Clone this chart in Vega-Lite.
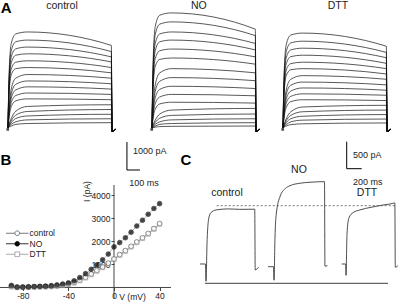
{
"$schema": "https://vega.github.io/schema/vega-lite/v6.json",
"width": 400, "height": 305,
"autosize": {"type": "none"},
"padding": 0,
"background": "white",
"config": {"view": {"stroke": null}, "font": "Liberation Sans", "text": {"font": "Liberation Sans"}},
"datasets": {
"traces": [
{"cond":"control","step":1,"ms":0,"pA":0},{"cond":"control","step":1,"ms":8,"pA":1890},{"cond":"control","step":1,"ms":25,"pA":3020},{"cond":"control","step":1,"ms":60,"pA":3360},{"cond":"control","step":1,"ms":150,"pA":3430},{"cond":"control","step":1,"ms":795,"pA":2950},{"cond":"control","step":1,"ms":800,"pA":-120},{"cond":"control","step":1,"ms":830,"pA":-40},
{"cond":"control","step":2,"ms":0,"pA":0},{"cond":"control","step":2,"ms":8,"pA":1730},{"cond":"control","step":2,"ms":25,"pA":2760},{"cond":"control","step":2,"ms":60,"pA":3080},{"cond":"control","step":2,"ms":150,"pA":3140},{"cond":"control","step":2,"ms":795,"pA":2730},{"cond":"control","step":2,"ms":800,"pA":-120},{"cond":"control","step":2,"ms":830,"pA":-40},
{"cond":"control","step":3,"ms":0,"pA":0},{"cond":"control","step":3,"ms":8,"pA":1590},{"cond":"control","step":3,"ms":25,"pA":2540},{"cond":"control","step":3,"ms":60,"pA":2830},{"cond":"control","step":3,"ms":150,"pA":2890},{"cond":"control","step":3,"ms":795,"pA":2540},{"cond":"control","step":3,"ms":800,"pA":-120},{"cond":"control","step":3,"ms":830,"pA":-40},
{"cond":"control","step":4,"ms":0,"pA":0},{"cond":"control","step":4,"ms":8,"pA":1460},{"cond":"control","step":4,"ms":25,"pA":2330},{"cond":"control","step":4,"ms":60,"pA":2600},{"cond":"control","step":4,"ms":150,"pA":2650},{"cond":"control","step":4,"ms":795,"pA":2360},{"cond":"control","step":4,"ms":800,"pA":-120},{"cond":"control","step":4,"ms":830,"pA":-40},
{"cond":"control","step":5,"ms":0,"pA":0},{"cond":"control","step":5,"ms":8,"pA":1320},{"cond":"control","step":5,"ms":25,"pA":2110},{"cond":"control","step":5,"ms":60,"pA":2350},{"cond":"control","step":5,"ms":150,"pA":2400},{"cond":"control","step":5,"ms":795,"pA":2160},{"cond":"control","step":5,"ms":800,"pA":-120},{"cond":"control","step":5,"ms":830,"pA":-40},
{"cond":"control","step":6,"ms":0,"pA":0},{"cond":"control","step":6,"ms":8,"pA":1190},{"cond":"control","step":6,"ms":25,"pA":1900},{"cond":"control","step":6,"ms":60,"pA":2120},{"cond":"control","step":6,"ms":150,"pA":2160},{"cond":"control","step":6,"ms":795,"pA":1970},{"cond":"control","step":6,"ms":800,"pA":-120},{"cond":"control","step":6,"ms":830,"pA":-40},
{"cond":"control","step":7,"ms":0,"pA":0},{"cond":"control","step":7,"ms":8,"pA":680},{"cond":"control","step":7,"ms":25,"pA":1390},{"cond":"control","step":7,"ms":60,"pA":1780},{"cond":"control","step":7,"ms":150,"pA":1910},{"cond":"control","step":7,"ms":795,"pA":1780},{"cond":"control","step":7,"ms":800,"pA":-120},{"cond":"control","step":7,"ms":830,"pA":-40},
{"cond":"control","step":8,"ms":0,"pA":0},{"cond":"control","step":8,"ms":8,"pA":600},{"cond":"control","step":8,"ms":25,"pA":1220},{"cond":"control","step":8,"ms":60,"pA":1560},{"cond":"control","step":8,"ms":150,"pA":1680},{"cond":"control","step":8,"ms":795,"pA":1580},{"cond":"control","step":8,"ms":800,"pA":-120},{"cond":"control","step":8,"ms":830,"pA":-40},
{"cond":"control","step":9,"ms":0,"pA":0},{"cond":"control","step":9,"ms":8,"pA":520},{"cond":"control","step":9,"ms":25,"pA":1070},{"cond":"control","step":9,"ms":60,"pA":1360},{"cond":"control","step":9,"ms":150,"pA":1470},{"cond":"control","step":9,"ms":795,"pA":1390},{"cond":"control","step":9,"ms":800,"pA":-120},{"cond":"control","step":9,"ms":830,"pA":-40},
{"cond":"control","step":10,"ms":0,"pA":0},{"cond":"control","step":10,"ms":8,"pA":440},{"cond":"control","step":10,"ms":25,"pA":910},{"cond":"control","step":10,"ms":60,"pA":1160},{"cond":"control","step":10,"ms":150,"pA":1250},{"cond":"control","step":10,"ms":795,"pA":1200},{"cond":"control","step":10,"ms":800,"pA":-120},{"cond":"control","step":10,"ms":830,"pA":-40},
{"cond":"control","step":11,"ms":0,"pA":0},{"cond":"control","step":11,"ms":8,"pA":370},{"cond":"control","step":11,"ms":25,"pA":760},{"cond":"control","step":11,"ms":60,"pA":970},{"cond":"control","step":11,"ms":150,"pA":1040},{"cond":"control","step":11,"ms":795,"pA":1010},{"cond":"control","step":11,"ms":800,"pA":-120},{"cond":"control","step":11,"ms":830,"pA":-40},
{"cond":"control","step":12,"ms":0,"pA":0},{"cond":"control","step":12,"ms":8,"pA":130},{"cond":"control","step":12,"ms":25,"pA":340},{"cond":"control","step":12,"ms":60,"pA":600},{"cond":"control","step":12,"ms":150,"pA":770},{"cond":"control","step":12,"ms":795,"pA":830},{"cond":"control","step":12,"ms":800,"pA":-120},{"cond":"control","step":12,"ms":830,"pA":-40},
{"cond":"control","step":13,"ms":0,"pA":0},{"cond":"control","step":13,"ms":8,"pA":100},{"cond":"control","step":13,"ms":25,"pA":260},{"cond":"control","step":13,"ms":60,"pA":460},{"cond":"control","step":13,"ms":150,"pA":590},{"cond":"control","step":13,"ms":795,"pA":660},{"cond":"control","step":13,"ms":800,"pA":-120},{"cond":"control","step":13,"ms":830,"pA":-40},
{"cond":"control","step":14,"ms":0,"pA":0},{"cond":"control","step":14,"ms":8,"pA":70},{"cond":"control","step":14,"ms":25,"pA":190},{"cond":"control","step":14,"ms":60,"pA":340},{"cond":"control","step":14,"ms":150,"pA":430},{"cond":"control","step":14,"ms":795,"pA":490},{"cond":"control","step":14,"ms":800,"pA":-120},{"cond":"control","step":14,"ms":830,"pA":-40},
{"cond":"control","step":15,"ms":0,"pA":0},{"cond":"control","step":15,"ms":8,"pA":50},{"cond":"control","step":15,"ms":25,"pA":130},{"cond":"control","step":15,"ms":60,"pA":220},{"cond":"control","step":15,"ms":150,"pA":290},{"cond":"control","step":15,"ms":795,"pA":330},{"cond":"control","step":15,"ms":800,"pA":-120},{"cond":"control","step":15,"ms":830,"pA":-40},
{"cond":"control","step":16,"ms":0,"pA":0},{"cond":"control","step":16,"ms":8,"pA":30},{"cond":"control","step":16,"ms":25,"pA":70},{"cond":"control","step":16,"ms":60,"pA":130},{"cond":"control","step":16,"ms":150,"pA":160},{"cond":"control","step":16,"ms":795,"pA":190},{"cond":"control","step":16,"ms":800,"pA":-120},{"cond":"control","step":16,"ms":830,"pA":-40},
{"cond":"NO","step":1,"ms":0,"pA":0},{"cond":"NO","step":1,"ms":8,"pA":2260},{"cond":"NO","step":1,"ms":25,"pA":3620},{"cond":"NO","step":1,"ms":60,"pA":4030},{"cond":"NO","step":1,"ms":150,"pA":4110},{"cond":"NO","step":1,"ms":795,"pA":3530},{"cond":"NO","step":1,"ms":800,"pA":-120},{"cond":"NO","step":1,"ms":830,"pA":-40},
{"cond":"NO","step":2,"ms":0,"pA":0},{"cond":"NO","step":2,"ms":8,"pA":2080},{"cond":"NO","step":2,"ms":25,"pA":3340},{"cond":"NO","step":2,"ms":60,"pA":3710},{"cond":"NO","step":2,"ms":150,"pA":3790},{"cond":"NO","step":2,"ms":795,"pA":3300},{"cond":"NO","step":2,"ms":800,"pA":-120},{"cond":"NO","step":2,"ms":830,"pA":-40},
{"cond":"NO","step":3,"ms":0,"pA":0},{"cond":"NO","step":3,"ms":8,"pA":1890},{"cond":"NO","step":3,"ms":25,"pA":3020},{"cond":"NO","step":3,"ms":60,"pA":3360},{"cond":"NO","step":3,"ms":150,"pA":3430},{"cond":"NO","step":3,"ms":795,"pA":3020},{"cond":"NO","step":3,"ms":800,"pA":-120},{"cond":"NO","step":3,"ms":830,"pA":-40},
{"cond":"NO","step":4,"ms":0,"pA":0},{"cond":"NO","step":4,"ms":8,"pA":1730},{"cond":"NO","step":4,"ms":25,"pA":2760},{"cond":"NO","step":4,"ms":60,"pA":3080},{"cond":"NO","step":4,"ms":150,"pA":3140},{"cond":"NO","step":4,"ms":795,"pA":2790},{"cond":"NO","step":4,"ms":800,"pA":-120},{"cond":"NO","step":4,"ms":830,"pA":-40},
{"cond":"NO","step":5,"ms":0,"pA":0},{"cond":"NO","step":5,"ms":8,"pA":1550},{"cond":"NO","step":5,"ms":25,"pA":2480},{"cond":"NO","step":5,"ms":60,"pA":2760},{"cond":"NO","step":5,"ms":150,"pA":2820},{"cond":"NO","step":5,"ms":795,"pA":2540},{"cond":"NO","step":5,"ms":800,"pA":-120},{"cond":"NO","step":5,"ms":830,"pA":-40},
{"cond":"NO","step":6,"ms":0,"pA":0},{"cond":"NO","step":6,"ms":8,"pA":1380},{"cond":"NO","step":6,"ms":25,"pA":2200},{"cond":"NO","step":6,"ms":60,"pA":2450},{"cond":"NO","step":6,"ms":150,"pA":2500},{"cond":"NO","step":6,"ms":795,"pA":2280},{"cond":"NO","step":6,"ms":800,"pA":-120},{"cond":"NO","step":6,"ms":830,"pA":-40},
{"cond":"NO","step":7,"ms":0,"pA":0},{"cond":"NO","step":7,"ms":8,"pA":750},{"cond":"NO","step":7,"ms":25,"pA":1540},{"cond":"NO","step":7,"ms":60,"pA":1970},{"cond":"NO","step":7,"ms":150,"pA":2120},{"cond":"NO","step":7,"ms":795,"pA":1970},{"cond":"NO","step":7,"ms":800,"pA":-120},{"cond":"NO","step":7,"ms":830,"pA":-40},
{"cond":"NO","step":8,"ms":0,"pA":0},{"cond":"NO","step":8,"ms":8,"pA":640},{"cond":"NO","step":8,"ms":25,"pA":1310},{"cond":"NO","step":8,"ms":60,"pA":1670},{"cond":"NO","step":8,"ms":150,"pA":1800},{"cond":"NO","step":8,"ms":795,"pA":1690},{"cond":"NO","step":8,"ms":800,"pA":-120},{"cond":"NO","step":8,"ms":830,"pA":-40},
{"cond":"NO","step":9,"ms":0,"pA":0},{"cond":"NO","step":9,"ms":8,"pA":530},{"cond":"NO","step":9,"ms":25,"pA":1080},{"cond":"NO","step":9,"ms":60,"pA":1380},{"cond":"NO","step":9,"ms":150,"pA":1490},{"cond":"NO","step":9,"ms":795,"pA":1410},{"cond":"NO","step":9,"ms":800,"pA":-120},{"cond":"NO","step":9,"ms":830,"pA":-40},
{"cond":"NO","step":10,"ms":0,"pA":0},{"cond":"NO","step":10,"ms":8,"pA":420},{"cond":"NO","step":10,"ms":25,"pA":870},{"cond":"NO","step":10,"ms":60,"pA":1110},{"cond":"NO","step":10,"ms":150,"pA":1200},{"cond":"NO","step":10,"ms":795,"pA":1150},{"cond":"NO","step":10,"ms":800,"pA":-120},{"cond":"NO","step":10,"ms":830,"pA":-40},
{"cond":"NO","step":11,"ms":0,"pA":0},{"cond":"NO","step":11,"ms":8,"pA":330},{"cond":"NO","step":11,"ms":25,"pA":670},{"cond":"NO","step":11,"ms":60,"pA":860},{"cond":"NO","step":11,"ms":150,"pA":920},{"cond":"NO","step":11,"ms":795,"pA":890},{"cond":"NO","step":11,"ms":800,"pA":-120},{"cond":"NO","step":11,"ms":830,"pA":-40},
{"cond":"NO","step":12,"ms":0,"pA":0},{"cond":"NO","step":12,"ms":8,"pA":110},{"cond":"NO","step":12,"ms":25,"pA":280},{"cond":"NO","step":12,"ms":60,"pA":500},{"cond":"NO","step":12,"ms":150,"pA":640},{"cond":"NO","step":12,"ms":795,"pA":700},{"cond":"NO","step":12,"ms":800,"pA":-120},{"cond":"NO","step":12,"ms":830,"pA":-40},
{"cond":"NO","step":13,"ms":0,"pA":0},{"cond":"NO","step":13,"ms":8,"pA":80},{"cond":"NO","step":13,"ms":25,"pA":200},{"cond":"NO","step":13,"ms":60,"pA":350},{"cond":"NO","step":13,"ms":150,"pA":450},{"cond":"NO","step":13,"ms":795,"pA":500},{"cond":"NO","step":13,"ms":800,"pA":-120},{"cond":"NO","step":13,"ms":830,"pA":-40},
{"cond":"NO","step":14,"ms":0,"pA":0},{"cond":"NO","step":14,"ms":8,"pA":50},{"cond":"NO","step":14,"ms":25,"pA":130},{"cond":"NO","step":14,"ms":60,"pA":220},{"cond":"NO","step":14,"ms":150,"pA":290},{"cond":"NO","step":14,"ms":795,"pA":330},{"cond":"NO","step":14,"ms":800,"pA":-120},{"cond":"NO","step":14,"ms":830,"pA":-40},
{"cond":"NO","step":15,"ms":0,"pA":0},{"cond":"NO","step":15,"ms":8,"pA":30},{"cond":"NO","step":15,"ms":25,"pA":70},{"cond":"NO","step":15,"ms":60,"pA":130},{"cond":"NO","step":15,"ms":150,"pA":160},{"cond":"NO","step":15,"ms":795,"pA":190},{"cond":"NO","step":15,"ms":800,"pA":-120},{"cond":"NO","step":15,"ms":830,"pA":-40},
{"cond":"NO","step":16,"ms":0,"pA":0},{"cond":"NO","step":16,"ms":8,"pA":10},{"cond":"NO","step":16,"ms":25,"pA":30},{"cond":"NO","step":16,"ms":60,"pA":50},{"cond":"NO","step":16,"ms":150,"pA":60},{"cond":"NO","step":16,"ms":795,"pA":70},{"cond":"NO","step":16,"ms":800,"pA":-120},{"cond":"NO","step":16,"ms":830,"pA":-40},
{"cond":"DTT","step":1,"ms":0,"pA":0},{"cond":"DTT","step":1,"ms":8,"pA":1860},{"cond":"DTT","step":1,"ms":25,"pA":2980},{"cond":"DTT","step":1,"ms":60,"pA":3320},{"cond":"DTT","step":1,"ms":150,"pA":3390},{"cond":"DTT","step":1,"ms":795,"pA":2920},{"cond":"DTT","step":1,"ms":800,"pA":-120},{"cond":"DTT","step":1,"ms":830,"pA":-40},
{"cond":"DTT","step":2,"ms":0,"pA":0},{"cond":"DTT","step":2,"ms":8,"pA":1710},{"cond":"DTT","step":2,"ms":25,"pA":2730},{"cond":"DTT","step":2,"ms":60,"pA":3040},{"cond":"DTT","step":2,"ms":150,"pA":3100},{"cond":"DTT","step":2,"ms":795,"pA":2700},{"cond":"DTT","step":2,"ms":800,"pA":-120},{"cond":"DTT","step":2,"ms":830,"pA":-40},
{"cond":"DTT","step":3,"ms":0,"pA":0},{"cond":"DTT","step":3,"ms":8,"pA":1570},{"cond":"DTT","step":3,"ms":25,"pA":2510},{"cond":"DTT","step":3,"ms":60,"pA":2790},{"cond":"DTT","step":3,"ms":150,"pA":2850},{"cond":"DTT","step":3,"ms":795,"pA":2510},{"cond":"DTT","step":3,"ms":800,"pA":-120},{"cond":"DTT","step":3,"ms":830,"pA":-40},
{"cond":"DTT","step":4,"ms":0,"pA":0},{"cond":"DTT","step":4,"ms":8,"pA":1430},{"cond":"DTT","step":4,"ms":25,"pA":2290},{"cond":"DTT","step":4,"ms":60,"pA":2550},{"cond":"DTT","step":4,"ms":150,"pA":2600},{"cond":"DTT","step":4,"ms":795,"pA":2310},{"cond":"DTT","step":4,"ms":800,"pA":-120},{"cond":"DTT","step":4,"ms":830,"pA":-40},
{"cond":"DTT","step":5,"ms":0,"pA":0},{"cond":"DTT","step":5,"ms":8,"pA":1290},{"cond":"DTT","step":5,"ms":25,"pA":2070},{"cond":"DTT","step":5,"ms":60,"pA":2300},{"cond":"DTT","step":5,"ms":150,"pA":2350},{"cond":"DTT","step":5,"ms":795,"pA":2120},{"cond":"DTT","step":5,"ms":800,"pA":-120},{"cond":"DTT","step":5,"ms":830,"pA":-40},
{"cond":"DTT","step":6,"ms":0,"pA":0},{"cond":"DTT","step":6,"ms":8,"pA":1170},{"cond":"DTT","step":6,"ms":25,"pA":1870},{"cond":"DTT","step":6,"ms":60,"pA":2080},{"cond":"DTT","step":6,"ms":150,"pA":2120},{"cond":"DTT","step":6,"ms":795,"pA":1930},{"cond":"DTT","step":6,"ms":800,"pA":-120},{"cond":"DTT","step":6,"ms":830,"pA":-40},
{"cond":"DTT","step":7,"ms":0,"pA":0},{"cond":"DTT","step":7,"ms":8,"pA":660},{"cond":"DTT","step":7,"ms":25,"pA":1360},{"cond":"DTT","step":7,"ms":60,"pA":1740},{"cond":"DTT","step":7,"ms":150,"pA":1870},{"cond":"DTT","step":7,"ms":795,"pA":1740},{"cond":"DTT","step":7,"ms":800,"pA":-120},{"cond":"DTT","step":7,"ms":830,"pA":-40},
{"cond":"DTT","step":8,"ms":0,"pA":0},{"cond":"DTT","step":8,"ms":8,"pA":580},{"cond":"DTT","step":8,"ms":25,"pA":1200},{"cond":"DTT","step":8,"ms":60,"pA":1530},{"cond":"DTT","step":8,"ms":150,"pA":1640},{"cond":"DTT","step":8,"ms":795,"pA":1540},{"cond":"DTT","step":8,"ms":800,"pA":-120},{"cond":"DTT","step":8,"ms":830,"pA":-40},
{"cond":"DTT","step":9,"ms":0,"pA":0},{"cond":"DTT","step":9,"ms":8,"pA":500},{"cond":"DTT","step":9,"ms":25,"pA":1040},{"cond":"DTT","step":9,"ms":60,"pA":1320},{"cond":"DTT","step":9,"ms":150,"pA":1430},{"cond":"DTT","step":9,"ms":795,"pA":1350},{"cond":"DTT","step":9,"ms":800,"pA":-120},{"cond":"DTT","step":9,"ms":830,"pA":-40},
{"cond":"DTT","step":10,"ms":0,"pA":0},{"cond":"DTT","step":10,"ms":8,"pA":430},{"cond":"DTT","step":10,"ms":25,"pA":890},{"cond":"DTT","step":10,"ms":60,"pA":1130},{"cond":"DTT","step":10,"ms":150,"pA":1220},{"cond":"DTT","step":10,"ms":795,"pA":1170},{"cond":"DTT","step":10,"ms":800,"pA":-120},{"cond":"DTT","step":10,"ms":830,"pA":-40},
{"cond":"DTT","step":11,"ms":0,"pA":0},{"cond":"DTT","step":11,"ms":8,"pA":360},{"cond":"DTT","step":11,"ms":25,"pA":730},{"cond":"DTT","step":11,"ms":60,"pA":940},{"cond":"DTT","step":11,"ms":150,"pA":1010},{"cond":"DTT","step":11,"ms":795,"pA":980},{"cond":"DTT","step":11,"ms":800,"pA":-120},{"cond":"DTT","step":11,"ms":830,"pA":-40},
{"cond":"DTT","step":12,"ms":0,"pA":0},{"cond":"DTT","step":12,"ms":8,"pA":120},{"cond":"DTT","step":12,"ms":25,"pA":330},{"cond":"DTT","step":12,"ms":60,"pA":580},{"cond":"DTT","step":12,"ms":150,"pA":750},{"cond":"DTT","step":12,"ms":795,"pA":810},{"cond":"DTT","step":12,"ms":800,"pA":-120},{"cond":"DTT","step":12,"ms":830,"pA":-40},
{"cond":"DTT","step":13,"ms":0,"pA":0},{"cond":"DTT","step":13,"ms":8,"pA":100},{"cond":"DTT","step":13,"ms":25,"pA":260},{"cond":"DTT","step":13,"ms":60,"pA":450},{"cond":"DTT","step":13,"ms":150,"pA":580},{"cond":"DTT","step":13,"ms":795,"pA":640},{"cond":"DTT","step":13,"ms":800,"pA":-120},{"cond":"DTT","step":13,"ms":830,"pA":-40},
{"cond":"DTT","step":14,"ms":0,"pA":0},{"cond":"DTT","step":14,"ms":8,"pA":70},{"cond":"DTT","step":14,"ms":25,"pA":190},{"cond":"DTT","step":14,"ms":60,"pA":330},{"cond":"DTT","step":14,"ms":150,"pA":420},{"cond":"DTT","step":14,"ms":795,"pA":480},{"cond":"DTT","step":14,"ms":800,"pA":-120},{"cond":"DTT","step":14,"ms":830,"pA":-40},
{"cond":"DTT","step":15,"ms":0,"pA":0},{"cond":"DTT","step":15,"ms":8,"pA":50},{"cond":"DTT","step":15,"ms":25,"pA":120},{"cond":"DTT","step":15,"ms":60,"pA":220},{"cond":"DTT","step":15,"ms":150,"pA":280},{"cond":"DTT","step":15,"ms":795,"pA":320},{"cond":"DTT","step":15,"ms":800,"pA":-120},{"cond":"DTT","step":15,"ms":830,"pA":-40},
{"cond":"DTT","step":16,"ms":0,"pA":0},{"cond":"DTT","step":16,"ms":8,"pA":30},{"cond":"DTT","step":16,"ms":25,"pA":70},{"cond":"DTT","step":16,"ms":60,"pA":120},{"cond":"DTT","step":16,"ms":150,"pA":150},{"cond":"DTT","step":16,"ms":795,"pA":180},{"cond":"DTT","step":16,"ms":800,"pA":-120},{"cond":"DTT","step":16,"ms":830,"pA":-40}
],
"iv": [
{"series":"control","V":-90,"I":50},{"series":"control","V":-85,"I":10},{"series":"control","V":-80,"I":10},{"series":"control","V":-75,"I":20},{"series":"control","V":-70,"I":30},{"series":"control","V":-65,"I":30},{"series":"control","V":-60,"I":40},{"series":"control","V":-55,"I":50},{"series":"control","V":-50,"I":70},{"series":"control","V":-45,"I":100},{"series":"control","V":-40,"I":150},{"series":"control","V":-35,"I":220},{"series":"control","V":-30,"I":320},{"series":"control","V":-25,"I":440},{"series":"control","V":-20,"I":590},{"series":"control","V":-15,"I":740},{"series":"control","V":-10,"I":890},{"series":"control","V":-5,"I":1060},{"series":"control","V":0,"I":1240},{"series":"control","V":5,"I":1430},{"series":"control","V":10,"I":1600},{"series":"control","V":15,"I":1790},{"series":"control","V":20,"I":1980},{"series":"control","V":25,"I":2160},{"series":"control","V":30,"I":2350},{"series":"control","V":35,"I":2560},{"series":"control","V":40,"I":2780},
{"series":"NO","V":-90,"I":90},{"series":"NO","V":-85,"I":20},{"series":"NO","V":-80,"I":20},{"series":"NO","V":-75,"I":30},{"series":"NO","V":-70,"I":40},{"series":"NO","V":-65,"I":50},{"series":"NO","V":-60,"I":60},{"series":"NO","V":-55,"I":80},{"series":"NO","V":-50,"I":110},{"series":"NO","V":-45,"I":150},{"series":"NO","V":-40,"I":200},{"series":"NO","V":-35,"I":290},{"series":"NO","V":-30,"I":430},{"series":"NO","V":-25,"I":600},{"series":"NO","V":-20,"I":790},{"series":"NO","V":-15,"I":980},{"series":"NO","V":-10,"I":1200},{"series":"NO","V":-5,"I":1450},{"series":"NO","V":0,"I":1760},{"series":"NO","V":5,"I":1950},{"series":"NO","V":10,"I":2160},{"series":"NO","V":15,"I":2400},{"series":"NO","V":20,"I":2670},{"series":"NO","V":25,"I":2920},{"series":"NO","V":30,"I":3180},{"series":"NO","V":35,"I":3430},{"series":"NO","V":40,"I":3640},
{"series":"DTT","V":-90,"I":30},{"series":"DTT","V":-85,"I":0},{"series":"DTT","V":-80,"I":10},{"series":"DTT","V":-75,"I":10},{"series":"DTT","V":-70,"I":20},{"series":"DTT","V":-65,"I":30},{"series":"DTT","V":-60,"I":30},{"series":"DTT","V":-55,"I":40},{"series":"DTT","V":-50,"I":60},{"series":"DTT","V":-45,"I":90},{"series":"DTT","V":-40,"I":130},{"series":"DTT","V":-35,"I":200},{"series":"DTT","V":-30,"I":300},{"series":"DTT","V":-25,"I":420},{"series":"DTT","V":-20,"I":560},{"series":"DTT","V":-15,"I":710},{"series":"DTT","V":-10,"I":870},{"series":"DTT","V":-5,"I":1040},{"series":"DTT","V":0,"I":1220},{"series":"DTT","V":5,"I":1400},{"series":"DTT","V":10,"I":1580},{"series":"DTT","V":15,"I":1760},{"series":"DTT","V":20,"I":1950},{"series":"DTT","V":25,"I":2130},{"series":"DTT","V":30,"I":2320},{"series":"DTT","V":35,"I":2530},{"series":"DTT","V":40,"I":2740}
],
"ctraces": [
{"cond":"control","ms":-80,"pA":0},{"cond":"control","ms":-8,"pA":0},{"cond":"control","ms":0,"pA":-320},{"cond":"control","ms":15,"pA":450},{"cond":"control","ms":40,"pA":870},{"cond":"control","ms":80,"pA":970},{"cond":"control","ms":150,"pA":1005},{"cond":"control","ms":300,"pA":1020},{"cond":"control","ms":450,"pA":1012},{"cond":"control","ms":650,"pA":1015},{"cond":"control","ms":656,"pA":-110},{"cond":"control","ms":700,"pA":-60},
{"cond":"NO","ms":827,"pA":-50},{"cond":"NO","ms":900,"pA":-50},{"cond":"NO","ms":907,"pA":-300},{"cond":"NO","ms":920,"pA":500},{"cond":"NO","ms":935,"pA":900},{"cond":"NO","ms":990,"pA":1260},{"cond":"NO","ms":1060,"pA":1400},{"cond":"NO","ms":1120,"pA":1450},{"cond":"NO","ms":1250,"pA":1495},{"cond":"NO","ms":1400,"pA":1515},{"cond":"NO","ms":1580,"pA":1525},{"cond":"NO","ms":1586,"pA":-40},{"cond":"NO","ms":1620,"pA":-30},
{"cond":"DTT","ms":1810,"pA":0},{"cond":"DTT","ms":1862,"pA":0},{"cond":"DTT","ms":1867,"pA":-210},{"cond":"DTT","ms":1880,"pA":550},{"cond":"DTT","ms":1905,"pA":850},{"cond":"DTT","ms":1960,"pA":950},{"cond":"DTT","ms":2050,"pA":1000},{"cond":"DTT","ms":2200,"pA":1050},{"cond":"DTT","ms":2350,"pA":1090},{"cond":"DTT","ms":2450,"pA":1110},{"cond":"DTT","ms":2518,"pA":1130},{"cond":"DTT","ms":2524,"pA":-60},{"cond":"DTT","ms":2560,"pA":-30}
]
},
"resolve": {"scale": {"x": "independent", "y": "independent"}},
"layer": [
{
"layer": [
{"data": {"name": "traces"}, "transform": [{"filter": "datum.cond === 'control'"}],
 "mark": {"type": "line", "interpolate": "monotone", "strokeWidth": 0.7, "color": "#111"},
 "encoding": {"x": {"field": "ms", "type": "quantitative", "scale": {"domain": [-61.54, 3015.4], "nice": false, "zero": false}, "axis": null},
  "y": {"field": "pA", "type": "quantitative", "scale": {"domain": [-6321.4, 4571.4], "nice": false, "zero": false}, "axis": null},
  "detail": {"field": "step"}}},
{"data": {"values": [{}]}, "mark": {"type": "point", "shape": "square", "size": 7, "filled": true, "color": "#000"},
 "encoding": {"x": {"datum": -2, "axis": null}, "y": {"datum": -50, "axis": null}}},
{"data": {"values": [{}]}, "mark": {"type": "text", "text": "control", "fontSize": 10.5, "color": "#222"},
 "encoding": {"x": {"datum": 415, "axis": null}, "y": {"datum": 4357, "axis": null}}},
{"data": {"values": [{}]}, "mark": {"type": "text", "text": "A", "fontSize": 15, "fontWeight": "bold", "color": "#000"},
 "encoding": {"x": {"datum": -15, "axis": null}, "y": {"datum": 4300, "axis": null}}},
{"data": {"values": [{}]}, "mark": {"type": "rule", "color": "#000", "strokeWidth": 1},
 "encoding": {"x": {"datum": 915, "axis": null}, "y": {"datum": -1500, "axis": null}, "y2": {"datum": -500}}},
{"data": {"values": [{}]}, "mark": {"type": "rule", "color": "#000", "strokeWidth": 1},
 "encoding": {"x": {"datum": 915, "axis": null}, "x2": {"datum": 1015}, "y": {"datum": -1500, "axis": null}}},
{"data": {"values": [{}]}, "mark": {"type": "text", "text": "1000 pA", "fontSize": 9, "align": "left", "color": "#222"},
 "encoding": {"x": {"datum": 962, "axis": null}, "y": {"datum": -820, "axis": null}}},
{"data": {"values": [{}]}, "mark": {"type": "text", "text": "100 ms", "fontSize": 9, "color": "#222"},
 "encoding": {"x": {"datum": 1046, "axis": null}, "y": {"datum": -1964, "axis": null}}}
]
},
{
"layer": [
{"data": {"name": "traces"}, "transform": [{"filter": "datum.cond === 'NO'"}],
 "mark": {"type": "line", "interpolate": "monotone", "strokeWidth": 0.7, "color": "#111"},
 "encoding": {"x": {"field": "ms", "type": "quantitative", "scale": {"domain": [-1169.2, 1907.7], "nice": false, "zero": false}, "axis": null},
  "y": {"field": "pA", "type": "quantitative", "scale": {"domain": [-6321.4, 4571.4], "nice": false, "zero": false}, "axis": null},
  "detail": {"field": "step"}}},
{"data": {"values": [{}]}, "mark": {"type": "point", "shape": "square", "size": 7, "filled": true, "color": "#000"},
 "encoding": {"x": {"datum": -2, "axis": null}, "y": {"datum": -50, "axis": null}}},
{"data": {"values": [{}]}, "mark": {"type": "text", "text": "NO", "fontSize": 10.5, "color": "#222"},
 "encoding": {"x": {"datum": 360, "axis": null}, "y": {"datum": 4357, "axis": null}}}
]
},
{
"layer": [
{"data": {"name": "traces"}, "transform": [{"filter": "datum.cond === 'DTT'"}],
 "mark": {"type": "line", "interpolate": "monotone", "strokeWidth": 0.7, "color": "#111"},
 "encoding": {"x": {"field": "ms", "type": "quantitative", "scale": {"domain": [-2176.9, 900], "nice": false, "zero": false}, "axis": null},
  "y": {"field": "pA", "type": "quantitative", "scale": {"domain": [-6321.4, 4571.4], "nice": false, "zero": false}, "axis": null},
  "detail": {"field": "step"}}},
{"data": {"values": [{}]}, "mark": {"type": "point", "shape": "square", "size": 7, "filled": true, "color": "#000"},
 "encoding": {"x": {"datum": -2, "axis": null}, "y": {"datum": -50, "axis": null}}},
{"data": {"values": [{}]}, "mark": {"type": "text", "text": "DTT", "fontSize": 10.5, "color": "#222"},
 "encoding": {"x": {"datum": 423, "axis": null}, "y": {"datum": 4357, "axis": null}}}
]
},
{
"layer": [
{"data": {"name": "iv"}, "mark": {"type": "line", "strokeWidth": 0.6, "color": "#888"},
 "encoding": {
  "x": {"field": "V", "type": "quantitative", "scale": {"domain": [-100, 250.88], "nice": false, "zero": false},
   "axis": {"orient": "bottom", "values": [-80, -40, 0, 40], "labelExpr": "'' + datum.value", "offset": -17.5, "domain": false, "tickSize": 3, "labelFontSize": 8.5, "labelColor": "#222", "tickColor": "#444", "labelPadding": 1, "grid": false,
    "title": "V (mV)", "titleFontSize": 8.5, "titleFontWeight": "normal", "titleColor": "#222", "titleX": 132, "titleY": 9, "titleAlign": "center", "titleBaseline": "middle"}},
  "y": {"field": "I", "type": "quantitative", "scale": {"domain": [-760.6, 12483], "nice": false, "zero": false},
   "axis": {"orient": "left", "values": [1000, 2000, 3000, 4000], "format": "d", "offset": -114, "domain": false, "tickSize": 3, "labelFontSize": 8.5, "labelColor": "#222", "tickColor": "#444", "labelPadding": 1, "grid": false,
    "title": "I (pA)", "titleFontSize": 8.5, "titleFontWeight": "normal", "titleColor": "#222", "titleX": -28, "titleY": 191, "titleAlign": "center", "titleBaseline": "middle", "titleAngle": -90}},
  "detail": {"field": "series"}}},
{"data": {"values": [{}]}, "mark": {"type": "rule", "color": "#444", "strokeWidth": 1},
 "encoding": {"x": {"datum": -100}, "x2": {"datum": 50}, "y": {"datum": 0}}},
{"data": {"values": [{}]}, "mark": {"type": "rule", "color": "#444", "strokeWidth": 1},
 "encoding": {"x": {"datum": 0}, "y": {"datum": -500}, "y2": {"datum": 4450}}},
{"data": {"name": "iv"}, "transform": [{"filter": "datum.series === 'DTT'"}],
 "mark": {"type": "point", "shape": "square", "size": 20, "filled": true, "fill": "white", "stroke": "#999", "strokeWidth": 0.8},
 "encoding": {"x": {"field": "V", "type": "quantitative"}, "y": {"field": "I", "type": "quantitative"}}},
{"data": {"name": "iv"}, "transform": [{"filter": "datum.series === 'control'"}],
 "mark": {"type": "point", "shape": "circle", "size": 22, "filled": true, "fill": "white", "stroke": "#555", "strokeWidth": 0.8},
 "encoding": {"x": {"field": "V", "type": "quantitative"}, "y": {"field": "I", "type": "quantitative"}}},
{"data": {"name": "iv"}, "transform": [{"filter": "datum.series === 'NO'"}],
 "mark": {"type": "point", "shape": "circle", "size": 22, "filled": true, "fill": "black", "stroke": "black", "strokeWidth": 0.8},
 "encoding": {"x": {"field": "V", "type": "quantitative"}, "y": {"field": "I", "type": "quantitative"}}},
{"data": {"name": "iv"}, "mark": {"type": "point", "filled": true, "opacity": 0},
 "encoding": {"x": {"field": "V", "type": "quantitative"}, "y": {"field": "I", "type": "quantitative"},
  "shape": {"field": "series", "type": "nominal", "scale": {"domain": ["control", "NO", "DTT"], "range": ["M-1,0A1,1,0,1,1,1,0A1,1,0,1,1,-1,0Z M-4.8,0L-1,0 M1,0L4.8,0", "M-1,0A1,1,0,1,1,1,0A1,1,0,1,1,-1,0Z M-4.8,0L-1,0 M1,0L4.8,0", "M-1,-1L1,-1L1,1L-1,1Z M-4.8,0L-1,0 M1,0L4.8,0"]},
   "legend": {"orient": "none", "legendX": 13, "legendY": 229, "title": null, "labelFontSize": 8.5, "labelColor": "#222", "symbolSize": 22, "symbolStrokeWidth": 0.8, "symbolOpacity": 1, "labelOffset": 8, "rowPadding": 1.5, "padding": 0}},
  "fill": {"field": "series", "type": "nominal", "scale": {"domain": ["control", "NO", "DTT"], "range": ["white", "black", "white"]},
   "legend": {"orient": "none", "legendX": 13, "legendY": 229, "title": null, "labelFontSize": 8.5, "labelColor": "#222", "symbolSize": 22, "symbolStrokeWidth": 0.8, "symbolOpacity": 1, "labelOffset": 8, "rowPadding": 1.5, "padding": 0}},
  "stroke": {"field": "series", "type": "nominal", "scale": {"domain": ["control", "NO", "DTT"], "range": ["#555", "black", "#999"]},
   "legend": {"orient": "none", "legendX": 13, "legendY": 229, "title": null, "labelFontSize": 8.5, "labelColor": "#222", "symbolSize": 22, "symbolStrokeWidth": 0.8, "symbolOpacity": 1, "labelOffset": 8, "rowPadding": 1.5, "padding": 0}}}},
{"data": {"values": [{}]}, "mark": {"type": "text", "text": "B", "fontSize": 15, "fontWeight": "bold", "color": "#000"},
 "encoding": {"x": {"datum": -94.7}, "y": {"datum": 5535}}}
]
},
{
"layer": [
{"data": {"name": "ctraces"},
 "mark": {"type": "line", "interpolate": "monotone", "strokeWidth": 0.8, "color": "#222"},
 "encoding": {"x": {"field": "ms", "type": "quantitative", "scale": {"domain": [-2746.7, 2586.7], "nice": false, "zero": false}, "axis": null},
  "y": {"field": "pA", "type": "quantitative", "scale": {"domain": [-759.3, 4888.9], "nice": false, "zero": false}, "axis": null},
  "detail": {"field": "cond"}}},
{"data": {"values": [{}]}, "mark": {"type": "rule", "color": "#555", "strokeWidth": 0.8, "strokeDash": [2, 2]},
 "encoding": {"x": {"datum": 143, "axis": null}, "x2": {"datum": 2520}, "y": {"datum": 1080, "axis": null}}},
{"data": {"values": [{}]}, "mark": {"type": "rule", "color": "#666", "strokeWidth": 1.2},
 "encoding": {"x": {"datum": -13, "axis": null}, "x2": {"datum": 2427}, "y": {"datum": -357, "axis": null}}},
{"data": {"values": [{}]}, "mark": {"type": "rule", "color": "#000", "strokeWidth": 1},
 "encoding": {"x": {"datum": 1876, "axis": null}, "y": {"datum": 1765, "axis": null}, "y2": {"datum": 2265}}},
{"data": {"values": [{}]}, "mark": {"type": "rule", "color": "#000", "strokeWidth": 1},
 "encoding": {"x": {"datum": 1876, "axis": null}, "x2": {"datum": 2076}, "y": {"datum": 1765, "axis": null}}},
{"data": {"values": [{}]}, "mark": {"type": "text", "text": "500 pA", "fontSize": 9, "align": "left", "color": "#222"},
 "encoding": {"x": {"datum": 1960, "axis": null}, "y": {"datum": 2018, "axis": null}}},
{"data": {"values": [{}]}, "mark": {"type": "text", "text": "200 ms", "fontSize": 9, "align": "left", "color": "#222"},
 "encoding": {"x": {"datum": 1960, "axis": null}, "y": {"datum": 1524, "axis": null}}},
{"data": {"values": [{}]}, "mark": {"type": "text", "text": "control", "fontSize": 10.5, "color": "#222"},
 "encoding": {"x": {"datum": 280, "axis": null}, "y": {"datum": 1315, "axis": null}}},
{"data": {"values": [{}]}, "mark": {"type": "text", "text": "NO", "fontSize": 10.5, "color": "#222"},
 "encoding": {"x": {"datum": 1240, "axis": null}, "y": {"datum": 1741, "axis": null}}},
{"data": {"values": [{}]}, "mark": {"type": "text", "text": "DTT", "fontSize": 10.5, "color": "#222"},
 "encoding": {"x": {"datum": 2147, "axis": null}, "y": {"datum": 1315, "axis": null}}},
{"data": {"values": [{}]}, "mark": {"type": "text", "text": "C", "fontSize": 15, "fontWeight": "bold", "color": "#000"},
 "encoding": {"x": {"datum": -267, "axis": null}, "y": {"datum": 1926, "axis": null}}}
]
}
]
}
